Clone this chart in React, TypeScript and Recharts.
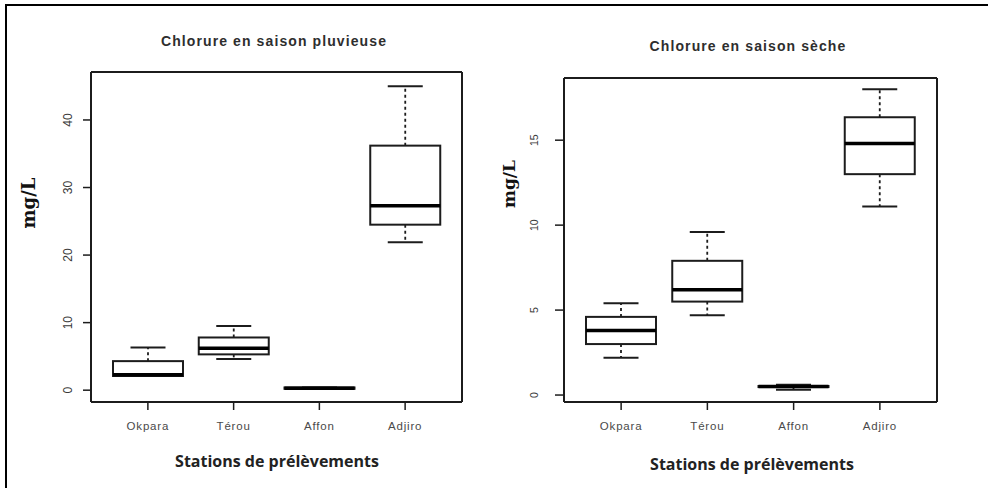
import React from 'react';
import { ComposedChart, Bar, XAxis, YAxis } from 'recharts';

// Stations sampled, in plotting order
const stations = ['Okpara', 'Térou', 'Affon', 'Adjiro'];

// Rainy season chloride (mg/L): five-number summaries per station
const rainMin = [2.1, 4.6, 0.2, 21.9];
const rainQ1 = [2.1, 5.3, 0.2, 24.5];
const rainMedian = [2.3, 6.2, 0.3, 27.3];
const rainQ3 = [4.3, 7.8, 0.4, 36.2];
const rainMax = [6.3, 9.5, 0.4, 45.0];

// Dry season chloride (mg/L)
const dryMin = [2.2, 4.7, 0.31, 11.1];
const dryQ1 = [3.0, 5.5, 0.47, 13.0];
const dryMedian = [3.8, 6.2, 0.5, 14.8];
const dryQ3 = [4.6, 7.9, 0.53, 16.35];
const dryMax = [5.4, 9.6, 0.6, 18.0];

const rainTicks = [0, 10, 20, 30, 40];
const dryTicks = [0, 5, 10, 15];

const INK = '#1c1c1c';

type Row = { station: string; min: number; q1: number; median: number; q3: number; max: number };

const buildRows = (mn: number[], q1: number[], md: number[], q3: number[], mx: number[]): Row[] =>
  stations.map((s, i) => ({ station: s, min: mn[i], q1: q1[i], median: md[i], q3: q3[i], max: mx[i] }));

const rainRows = buildRows(rainMin, rainQ1, rainMedian, rainQ3, rainMax);
const dryRows = buildRows(dryMin, dryQ1, dryMedian, dryQ3, dryMax);

// The bar spans [min, max]; the other quantiles are placed inside that span
const BoxShape = (props: any) => {
  const { x, y, width, height, payload } = props;
  if (!payload) return null;
  const top = Math.min(y, y + height);
  const h = Math.abs(height);
  const span = payload.max - payload.min;
  const py = (v: number) => (span > 0 ? top + ((payload.max - v) / span) * h : top);
  const cx = x + width / 2;
  const cap = width / 4;
  const yMax = py(payload.max);
  const yQ3 = py(payload.q3);
  const yMed = py(payload.median);
  const yQ1 = py(payload.q1);
  const yMin = py(payload.min);
  return (
    <g>
      <line x1={cx} x2={cx} y1={yQ3} y2={yMax} stroke={INK} strokeWidth={1.8} strokeDasharray="3 3" />
      <line x1={cx} x2={cx} y1={yQ1} y2={yMin} stroke={INK} strokeWidth={1.8} strokeDasharray="3 3" />
      <line x1={cx - cap} x2={cx + cap} y1={yMax} y2={yMax} stroke={INK} strokeWidth={2} />
      <line x1={cx - cap} x2={cx + cap} y1={yMin} y2={yMin} stroke={INK} strokeWidth={2} />
      <rect x={x} y={yQ3} width={width} height={Math.max(yQ1 - yQ3, 0)} fill="#fff" stroke={INK} strokeWidth={2} />
      <line x1={x} x2={x + width} y1={yMed} y2={yMed} stroke="#000" strokeWidth={3.5} />
    </g>
  );
};

const makeYTick = (fontSize: number) => (props: any) => {
  const { x, y, payload } = props;
  return (
    <text
      x={x}
      y={y}
      transform={`rotate(-90 ${x} ${y})`}
      textAnchor="middle"
      fill="#3a3a3a"
      fontSize={fontSize}
      fontFamily="Liberation Sans, Arial, sans-serif"
    >
      {payload.value}
    </text>
  );
};

interface PanelProps {
  rows: Row[];
  domain: [number, number];
  ticks: number[];
  left: number;
  margin: { top: number; right: number; bottom: number; left: number };
  pad: number;
  yTickSize: number;
  yTickMargin: number;
  yTickFont: number;
  title: string;
  titlePos: [number, number];
  xTitlePos: [number, number];
  yTitlePos: [number, number];
  yTitleSize: number;
}

// Axis sizes reserved inside the chart; margins below are reduced to match
const X_AXIS_H = 30;
const Y_AXIS_W = 40;
const EDGE = 1;

const Panel = (p: PanelProps) => {
  const axisLine = { stroke: INK, strokeWidth: 2 };
  const YTick = makeYTick(p.yTickFont);
  const m = {
    top: p.margin.top - EDGE,
    right: p.margin.right - EDGE,
    bottom: p.margin.bottom - X_AXIS_H,
    left: p.margin.left - Y_AXIS_W,
  };
  return (
    <div style={{ position: 'absolute', left: p.left, top: 0, width: 494, height: 488 }}>
      <ComposedChart width={494} height={488} data={p.rows} margin={m}>
        <XAxis
          dataKey="station"
          height={X_AXIS_H}
          padding={{ left: p.pad, right: p.pad }}
          axisLine={axisLine}
          tickLine={{ stroke: INK, strokeWidth: 1.5 }}
          tickSize={8}
          tickMargin={12}
          interval={0}
          tick={{ fill: '#4a4a4a', fontSize: 11.5, letterSpacing: 0.8, fontFamily: 'Liberation Sans, Arial, sans-serif' }}
        />
        <XAxis
          xAxisId="top"
          orientation="top"
          dataKey="station"
          height={EDGE}
          padding={{ left: p.pad, right: p.pad }}
          axisLine={axisLine}
          tick={false}
          tickLine={false}
        />
        <YAxis
          type="number"
          width={Y_AXIS_W}
          domain={p.domain}
          allowDataOverflow
          ticks={p.ticks}
          interval={0}
          axisLine={axisLine}
          tickLine={{ stroke: INK, strokeWidth: 1.5 }}
          tickSize={p.yTickSize}
          tickMargin={p.yTickMargin}
          tick={<YTick />}
        />
        <YAxis
          yAxisId="right"
          orientation="right"
          type="number"
          width={EDGE}
          domain={p.domain}
          allowDataOverflow
          axisLine={axisLine}
          tick={false}
          tickLine={false}
        />
        <Bar
          dataKey={(d: Row) => [d.min, d.max]}
          barSize={70}
          shape={BoxShape}
          isAnimationActive={false}
        />
      </ComposedChart>
      <div
        style={{
          position: 'absolute',
          left: p.titlePos[0],
          top: p.titlePos[1],
          transform: 'translate(-50%, -50%)',
          whiteSpace: 'nowrap',
          fontFamily: 'Liberation Sans, Arial, sans-serif',
          fontWeight: 700,
          fontSize: 14,
          letterSpacing: 1.1,
          color: '#2e2e2e',
        }}
      >
        {p.title}
      </div>
      <div
        style={{
          position: 'absolute',
          left: p.xTitlePos[0],
          top: p.xTitlePos[1],
          transform: 'translate(-50%, -50%)',
          whiteSpace: 'nowrap',
          fontFamily: '"Open Sans", sans-serif',
          fontWeight: 700,
          fontSize: 16,
          color: '#222',
        }}
      >
        Stations de prélèvements
      </div>
      <div
        style={{
          position: 'absolute',
          left: p.yTitlePos[0],
          top: p.yTitlePos[1],
          transform: 'translate(-50%, -50%) rotate(-90deg)',
          whiteSpace: 'nowrap',
          fontFamily: '"DejaVu Serif", serif',
          fontWeight: 700,
          fontSize: p.yTitleSize,
          color: '#111',
        }}
      >
        mg/L
      </div>
    </div>
  );
};

export default function App() {
  return (
    <div style={{ position: 'absolute', left: 0, top: 0, width: 988, height: 488, background: '#fff', overflow: 'hidden' }}>
      <div
        style={{
          position: 'absolute',
          left: 5,
          top: 4,
          width: 990,
          height: 490,
          borderTop: '2.5px solid #000',
          borderLeft: '2.5px solid #000',
        }}
      />
      <Panel
        rows={rainRows}
        domain={[-1.75, 47.1]}
        ticks={rainTicks}
        left={0}
        margin={{ top: 72, right: 32, bottom: 86, left: 91 }}
        pad={14}
        yTickSize={8}
        yTickMargin={11}
        yTickFont={12}
        title="Chlorure en saison pluvieuse"
        titlePos={[274, 41]}
        xTitlePos={[277, 461]}
        yTitlePos={[28, 203]}
        yTitleSize={18}
      />
      <Panel
        rows={dryRows}
        domain={[-0.41, 18.66]}
        ticks={dryTicks}
        left={494}
        margin={{ top: 78, right: 51, bottom: 86, left: 70 }}
        pad={14}
        yTickSize={9}
        yTickMargin={17}
        yTickFont={10.5}
        title="Chlorure en saison sèche"
        titlePos={[254, 46]}
        xTitlePos={[258, 464]}
        yTitlePos={[15, 184]}
        yTitleSize={17}
      />
    </div>
  );
}
